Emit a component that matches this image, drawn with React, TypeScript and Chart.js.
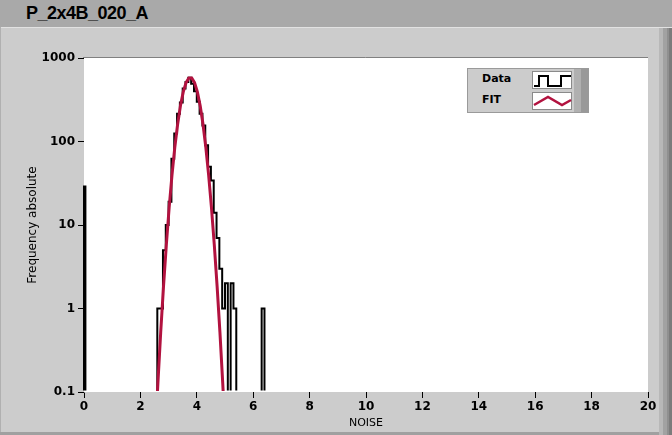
import React, { useEffect, useRef } from "react";
import { Chart, registerables } from "chart.js";
Chart.register(...registerables);

const TITLE = "P_2x4B_020_A";
const X_LABEL = "NOISE";
const Y_LABEL = "Frequency absolute";
const X_TICKS = [0, 2, 4, 6, 8, 10, 12, 14, 16, 18, 20];
const Y_TICKS = [0.1, 1, 10, 100, 1000];
const LEGEND_NAMES = ["Data", "FIT"];

// histogram: left bin edges and counts (0 = empty)
const histEdges = [0, 0.05, 2.6, 2.7, 2.8, 2.9, 3.0, 3.1, 3.2, 3.3, 3.4, 3.5, 3.6, 3.7, 3.8, 3.9, 4.0, 4.1, 4.2, 4.3, 4.4, 4.5, 4.6, 4.7, 4.8, 4.9, 5.0, 5.1, 5.2, 5.3, 5.4, 6.3, 6.4];
const histCounts = [29, 0, 1, 1, 5, 10, 19, 62, 125, 215, 294, 430, 515, 580, 493, 400, 300, 215, 155, 90, 50, 34, 14, 7, 3, 1, 2, 0, 2, 1, 0, 1, 0];

// fitted curve points
const fitX = [2.52, 2.62, 2.72, 2.82, 2.92, 3.02, 3.12, 3.22, 3.32, 3.42, 3.52, 3.62, 3.72, 3.82, 3.92, 4.02, 4.12, 4.22, 4.32, 4.42, 4.52, 4.62, 4.72, 4.82, 4.92, 5.02];
const fitY = [0.027, 0.127, 0.52, 1.85, 5.8, 16.2, 39.5, 85, 161, 268, 393, 507, 576, 576, 507, 393, 268, 161, 85, 39.5, 16.2, 5.8, 1.85, 0.52, 0.127, 0.027];

const RED = "#b2123f";
const Y_MIN = 0.1;

export default function App() {
  const ref = useRef<HTMLCanvasElement | null>(null);

  useEffect(() => {
    document.body.style.margin = "0";
    const canvas = ref.current;
    if (!canvas) return;

    const histPts: { x: number; y: number }[] = [{ x: histEdges[0], y: Y_MIN }];
    histEdges.forEach((e, i) => {
      histPts.push({ x: e, y: histCounts[i] > 0 ? histCounts[i] : Y_MIN });
    });
    const fitPts = fitX.map((x, i) => ({ x, y: fitY[i] }));

    const plotFrame = {
      id: "plotFrame",
      beforeDatasetsDraw(chart: any) {
        const { ctx, chartArea: a } = chart;
        ctx.save();
        ctx.fillStyle = "#ffffff";
        ctx.fillRect(a.left, a.top, a.right - a.left, a.bottom - a.top);
        ctx.restore();
      },
      afterDraw(chart: any) {
        const { ctx, chartArea: a } = chart;
        ctx.save();
        ctx.strokeStyle = "#808080";
        ctx.lineWidth = 1;
        ctx.beginPath();
        ctx.moveTo(a.left - 1, a.top - 0.5);
        ctx.lineTo(a.right, a.top - 0.5);
        ctx.stroke();
        ctx.restore();
      },
    };

    const chart = new Chart(canvas, {
      type: "line",
      data: {
        datasets: [
          {
            label: LEGEND_NAMES[0],
            data: histPts,
            stepped: "before",
            borderColor: "#000000",
            borderWidth: 2,
            pointRadius: 0,
            fill: false,
            order: 2,
            clip: { left: 2, right: 2, top: 2, bottom: -1.5 },
          },
          {
            label: LEGEND_NAMES[1],
            data: fitPts,
            borderColor: RED,
            borderWidth: 3,
            pointRadius: 0,
            tension: 0,
            fill: false,
            order: 1,
            clip: { left: 2, right: 2, top: 2, bottom: -1 },
          },
        ],
      },
      plugins: [plotFrame],
      options: {
        animation: false,
        responsive: false,
        devicePixelRatio: 1,
        layout: { padding: { top: 58, right: 24, left: 0, bottom: 0 } },
        plugins: { legend: { display: false }, tooltip: { enabled: false }, title: { display: false } },
        scales: {
          x: {
            type: "linear",
            min: 0,
            max: 20,
            afterFit: (s: any) => { s.height = 43; },
            afterBuildTicks: (s: any) => { s.ticks = X_TICKS.map((v) => ({ value: v })); },
            ticks: {
              color: "#000",
              font: { family: "DejaVu Sans", size: 12, weight: "bold" },
              padding: 2,
              maxRotation: 0,
              callback: (v: any) => String(v),
            },
            grid: { display: true, drawOnChartArea: false, drawTicks: true, tickLength: 6, color: "#000" },
            border: { display: false },
            title: {
              display: true,
              text: X_LABEL,
              color: "#000",
              font: { family: "DejaVu Sans", size: 11 },
              padding: { top: 0, bottom: 5 },
            },
          },
          y: {
            type: "logarithmic",
            min: Y_MIN,
            max: 1000,
            afterFit: (s: any) => { s.width = 84; },
            afterBuildTicks: (s: any) => { s.ticks = Y_TICKS.map((v) => ({ value: v })); },
            ticks: {
              color: "#000",
              font: { family: "DejaVu Sans", size: 12, weight: "bold" },
              padding: 3,
              callback: (v: any) => String(v),
            },
            grid: { display: true, drawOnChartArea: false, drawTicks: true, tickLength: 6, color: "#000" },
            border: { display: true, color: "#808080", width: 1 },
            title: {
              display: true,
              text: Y_LABEL,
              color: "#000",
              font: { family: "DejaVu Sans", size: 12 },
              padding: { top: 26, bottom: 0 },
            },
          },
        },
      },
    } as any);
    return () => chart.destroy();
  }, []);

  return (
    <div style={{ position: "relative", width: 672, height: 435, background: "#cccccc", overflow: "hidden" }}>
      <div style={{ position: "absolute", left: 0, top: 0, width: 672, height: 27, background: "#a9a9a9" }}>
        <div style={{ position: "absolute", left: 26, top: 3, fontFamily: "Liberation Sans", fontWeight: "bold", fontSize: 18, letterSpacing: -0.5, color: "#000", whiteSpace: "nowrap" }}>{TITLE}</div>
      </div>
      <div style={{ position: "absolute", left: 0, top: 27, width: 672, height: 1, background: "#e2e2e2" }} />
      <div style={{ position: "absolute", left: 0, top: 27, width: 1, height: 408, background: "#b0b0b0" }} />
      <div style={{ position: "absolute", left: 0, top: 432, width: 672, height: 3, background: "#a0a0a0" }} />
      <div style={{ position: "absolute", left: 659, top: 28, width: 4, height: 407, background: "#b8b8b8" }} />
      <div style={{ position: "absolute", left: 663, top: 28, width: 4, height: 407, background: "#a2a2a2" }} />
      <div style={{ position: "absolute", left: 667, top: 28, width: 2, height: 407, background: "#909090" }} />
      <div style={{ position: "absolute", left: 669, top: 28, width: 3, height: 407, background: "#7c7c7c" }} />
      <canvas ref={ref} width={672} height={435} style={{ position: "absolute", left: 0, top: 0, width: 672, height: 435 }} />
      <div style={{ position: "absolute", left: 467, top: 68, width: 120, height: 43, background: "#cccccc", border: "1px solid #9a9a9a" }}>
        <div style={{ position: "absolute", left: 14, top: 3, fontFamily: "DejaVu Sans", fontWeight: "bold", fontSize: 11, color: "#000" }}>{LEGEND_NAMES[0]}</div>
        <div style={{ position: "absolute", left: 14, top: 24, fontFamily: "DejaVu Sans", fontWeight: "bold", fontSize: 11, color: "#000" }}>{LEGEND_NAMES[1]}</div>
        <div style={{ position: "absolute", left: 64, top: 2, width: 40, height: 18, background: "#fff", border: "1px solid #8a8a8a", boxSizing: "border-box" }}>
          <svg width={40} height={18} style={{ position: "absolute", left: -1, top: -1 }}>
            <polyline points="2,15 7,15 7,5 16,5 16,15 29,15 29,5 39,5" fill="none" stroke="#000" strokeWidth={2} />
          </svg>
        </div>
        <div style={{ position: "absolute", left: 64, top: 23, width: 40, height: 18, background: "#fff", border: "1px solid #8a8a8a", boxSizing: "border-box" }}>
          <svg width={40} height={18} style={{ position: "absolute", left: -1, top: -1 }}>
            <polyline points="2,13 16,5 30,13 39,8" fill="none" stroke={RED} strokeWidth={2.5} />
          </svg>
        </div>
        <div style={{ position: "absolute", left: 106, top: 0, width: 7, height: 43, background: "#b0b0b0" }} />
        <div style={{ position: "absolute", left: 113, top: 0, width: 7, height: 43, background: "#999999" }} />
      </div>
    </div>
  );
}
